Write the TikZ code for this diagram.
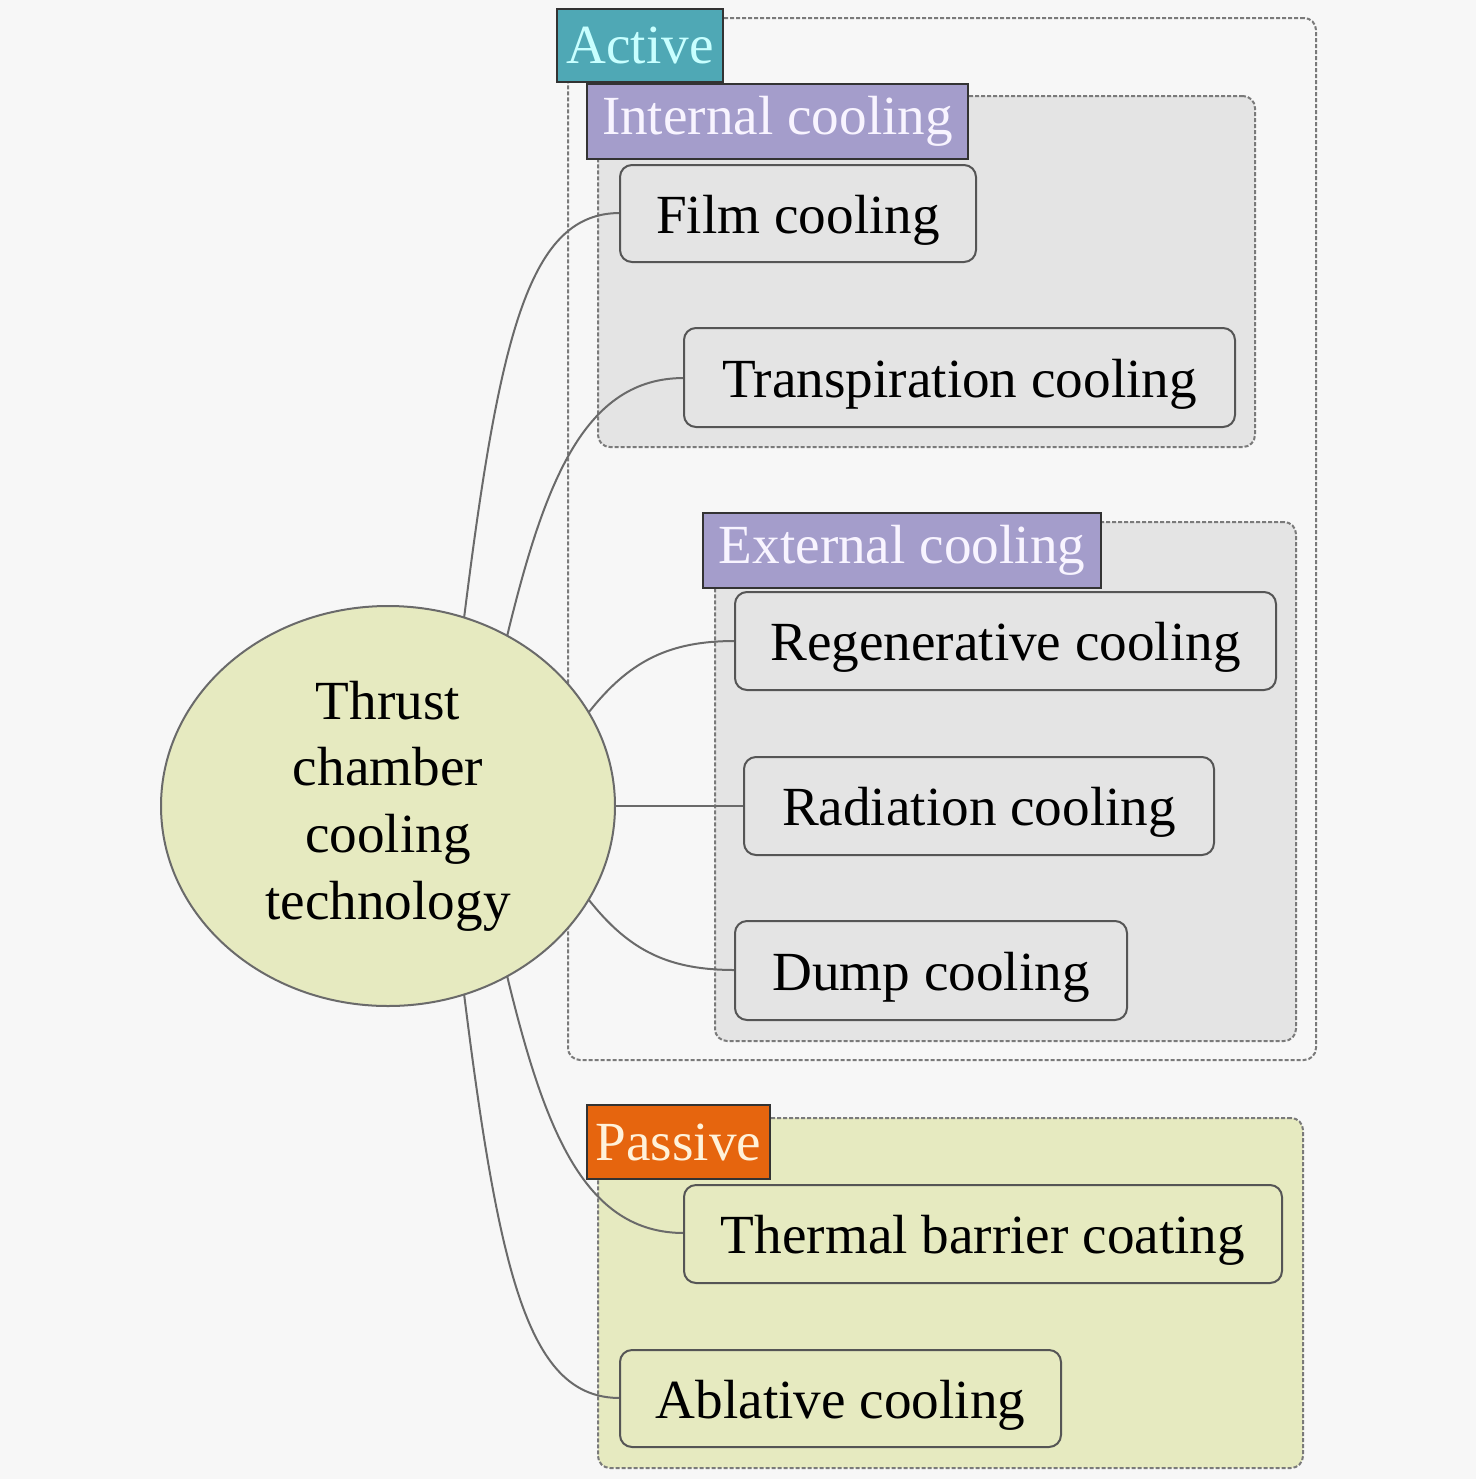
\documentclass[tikz,border=0pt]{standalone}
\usepackage{fontspec}
\setmainfont{Liberation Serif}
\usetikzlibrary{shapes.geometric}
\definecolor{bgc}{HTML}{F7F7F7}
\definecolor{grayfill}{HTML}{E4E4E4}
\definecolor{yelfill}{HTML}{E6EAC0}
\definecolor{tealc}{HTML}{4FA8B5}
\definecolor{tealtxt}{HTML}{C8FFFF}
\definecolor{lavc}{HTML}{A49DCB}
\definecolor{lavtxt}{HTML}{F8F4FF}
\definecolor{orangec}{HTML}{E6650E}
\definecolor{orangetxt}{HTML}{FFF2DA}
\definecolor{edgec}{HTML}{555555}
\definecolor{linkc}{HTML}{6A6A6A}
\definecolor{grpline}{HTML}{7A7A7A}
\tikzset{
  x=0.5pt, y=-0.5pt,
  every node/.style={font=\fontsize{27.6}{33.3}\selectfont, inner sep=0pt, outer sep=0pt},
  grp/.style={draw=grpline, line width=1pt, dash pattern=on 2pt off 1pt, rounded corners=6pt},
  tag/.style={draw=black!80, line width=1pt},
  cbox/.style={draw=edgec, line width=1pt, rounded corners=6pt, fill=grayfill, text height=25pt, text depth=5.5pt},
  link/.style={draw=linkc, line width=1pt},
}
\begin{document}
\begin{tikzpicture}
\fill[bgc] (0,0) rectangle (1476,1479);
\useasboundingbox (0,0) rectangle (1476,1479);
% groups
\node[grp, fill=bgc, minimum width=374pt, minimum height=521pt] (activegrp) at (942,539) {};
\node[grp, fill=grayfill, minimum width=328.5pt, minimum height=175.5pt] (internalgrp) at (926.5,271.5) {};
\node[grp, fill=grayfill, minimum width=290.5pt, minimum height=259.5pt] (externalgrp) at (1005.5,781.5) {};
\node[grp, fill=yelfill, minimum width=352.5pt, minimum height=175pt] (passivegrp) at (950.5,1293) {};
% ellipse
\node[ellipse, draw=linkc, line width=1pt, fill=yelfill, minimum width=227pt, minimum height=200pt, align=center] (root) at (388,806) {Thrust\\chamber\\cooling\\technology};
% connectors
\draw[link] (root.68) .. controls (500,330) and (530,213) .. (620,213) coordinate (filmend);
\draw[link] (root.55) .. controls (545,480) and (585,378) .. (684,378) coordinate (transend);
\draw[link] (root.25) .. controls (630,660) and (670,641) .. (735,641) coordinate (regend);
\draw[link] (root.east) -- (744,806) coordinate (radend);
\draw[link] (root.-25) .. controls (630,952) and (670,970) .. (735,970) coordinate (dumpend);
\draw[link] (root.-55) .. controls (545,1132) and (585,1233) .. (684,1233) coordinate (thermend);
\draw[link] (root.-68) .. controls (500,1282) and (530,1398) .. (620,1398) coordinate (ablend);
% boxes
\node[cbox, minimum width=178pt, minimum height=48.5pt] (film) at (798,213.5) {Film cooling};
\node[cbox, minimum width=275.5pt, minimum height=49.5pt] (trans) at (959.5,377.5) {Transpiration cooling};
\node[cbox, minimum width=270.5pt, minimum height=49pt] (regen) at (1005.5,641) {Regenerative cooling};
\node[cbox, minimum width=235pt, minimum height=49pt] (rad) at (979,806) {Radiation cooling};
\node[cbox, minimum width=196pt, minimum height=49.5pt] (dump) at (931,970.5) {Dump cooling};
\node[cbox, fill=yelfill, minimum width=299pt, minimum height=49pt] (therm) at (983,1234) {Thermal barrier coating};
\node[cbox, fill=yelfill, minimum width=220.5pt, minimum height=48.5pt] (abl) at (840.5,1398.5) {Ablative cooling};
% tags
\node[tag, fill=tealc, text=tealtxt, minimum width=83pt, minimum height=36.5pt] (activetag) at (640,45.5) {Active};
\node[tag, fill=lavc, text=lavtxt, minimum width=190.5pt, minimum height=37.5pt] (internaltag) at (777.5,121.5) {Internal cooling};
\node[tag, fill=lavc, text=lavtxt, minimum width=199pt, minimum height=37.5pt] (externaltag) at (902,550.5) {External cooling};
\node[tag, fill=orangec, text=orangetxt, minimum width=91.5pt, minimum height=37pt] (passivetag) at (678.5,1142) {Passive};
\end{tikzpicture}
\end{document}
